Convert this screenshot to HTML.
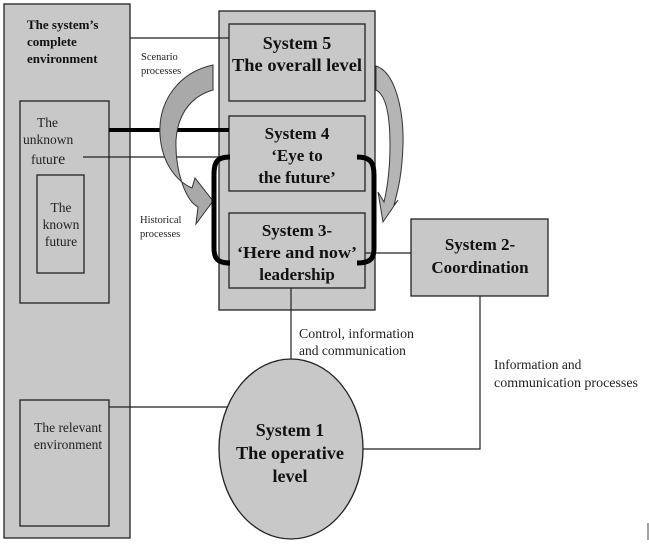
<!DOCTYPE html>
<html><head><meta charset="utf-8"><style>
html,body{margin:0;padding:0;background:#fff;}
svg{display:block;font-family:"Liberation Serif",serif;}
</style></head><body>
<svg width="649" height="545" viewBox="0 0 649 545" xmlns="http://www.w3.org/2000/svg">
<g stroke="#222" stroke-width="1.3" fill="#c8c8c8">
<rect x="4" y="4" width="126" height="534"/>
<rect x="20" y="101" width="89" height="202"/>
<rect x="37" y="175" width="47" height="98"/>
<rect x="20" y="400" width="89" height="126"/>
<rect x="219" y="11" width="156" height="299"/>
<rect x="229" y="24" width="136" height="77"/>
<rect x="229" y="116" width="136" height="75"/>
<rect x="229" y="213" width="136" height="75"/>
<rect x="411" y="219" width="137" height="77"/>
<ellipse cx="291" cy="449" rx="72" ry="90"/>
</g>
<g stroke="#222" stroke-width="1.2" fill="none">
<line x1="130" y1="38" x2="229" y2="38"/>
<line x1="83" y1="157" x2="229" y2="157"/>
<line x1="365" y1="253" x2="411" y2="253"/>
<line x1="291" y1="288" x2="291" y2="359"/>
<polyline points="480,296 480,449 363,449"/>
<line x1="109" y1="407" x2="228" y2="407"/>
</g>
<line x1="109" y1="130" x2="229" y2="130" stroke="#000" stroke-width="4"/>
<path d="M213,65 C180,72 158,100 160,135 C162,165 178,182 192,188 L195,178 L213,201 L196,224 L198,207 C185,200 175,170 176,140 C178,110 195,95 213,90 Z" fill="#a9a9a9" stroke="#333" stroke-width="1"/>
<path d="M376,66 C395,72 404,110 403,145 C402,175 398,190 394,205 L398,200 L383,222 L378,192 L384,202 C388,185 390,165 390,145 C390,115 386,95 376,90 Z" fill="#b5b5b5" stroke="#333" stroke-width="1"/>
<path d="M230,157 C216,157 214,163 214,175 L214,248 C214,258 217,263 230,263" fill="none" stroke="#000" stroke-width="5"/>
<path d="M357,157 C371,157 374,163 374,175 L374,248 C374,258 371,263 357,263" fill="none" stroke="#000" stroke-width="5"/>
<g fill="#111" font-weight="bold" text-anchor="middle">
<text x="297" y="49" font-size="18">System 5</text>
<text x="297" y="71" font-size="18" textLength="130" lengthAdjust="spacingAndGlyphs">The overall level</text>
<text x="297" y="139" font-size="17">System 4</text>
<text x="297" y="161" font-size="17">‘Eye to</text>
<text x="297" y="183" font-size="17">the future’</text>
<text x="297" y="236" font-size="17">System 3-</text>
<text x="297" y="258" font-size="17" textLength="120" lengthAdjust="spacingAndGlyphs">‘Here and now’</text>
<text x="297" y="280" font-size="17">leadership</text>
<text x="480" y="250" font-size="17">System 2-</text>
<text x="480" y="273" font-size="17">Coordination</text>
<text x="290" y="436" font-size="18">System 1</text>
<text x="290" y="459" font-size="18" textLength="108" lengthAdjust="spacingAndGlyphs">The operative</text>
<text x="290" y="482" font-size="18">level</text>
</g>
<g fill="#111" font-weight="bold" font-size="13">
<text x="27" y="29">The system’s</text>
<text x="27" y="46">complete</text>
<text x="27" y="63">environment</text>
</g>
<g fill="#222" font-size="13.5">
<text x="37" y="127">The</text>
<text x="23" y="144">unknown</text>
<text x="31" y="164">futu<tspan font-size="16">re</tspan></text>
<text x="61" y="212" text-anchor="middle">The</text>
<text x="61" y="229" text-anchor="middle">known</text>
<text x="61" y="246" text-anchor="middle">future</text>
<text x="68" y="432" text-anchor="middle">The relevant</text>
<text x="68" y="449" text-anchor="middle">environment</text>
<text x="299" y="338" textLength="115" lengthAdjust="spacingAndGlyphs">Control, information</text>
<text x="299" y="355">and communication</text>
<text x="494" y="369">Information and</text>
<text x="494" y="387" textLength="144" lengthAdjust="spacingAndGlyphs">communication processes</text>
</g>
<g fill="#222" font-size="10.5">
<text x="141" y="60">Scenario</text>
<text x="141" y="74">processes</text>
<text x="140" y="223">Historical</text>
<text x="140" y="237">processes</text>
</g>
<line x1="648" y1="523" x2="648" y2="540" stroke="#444" stroke-width="1"/>
</svg>
</body></html>
